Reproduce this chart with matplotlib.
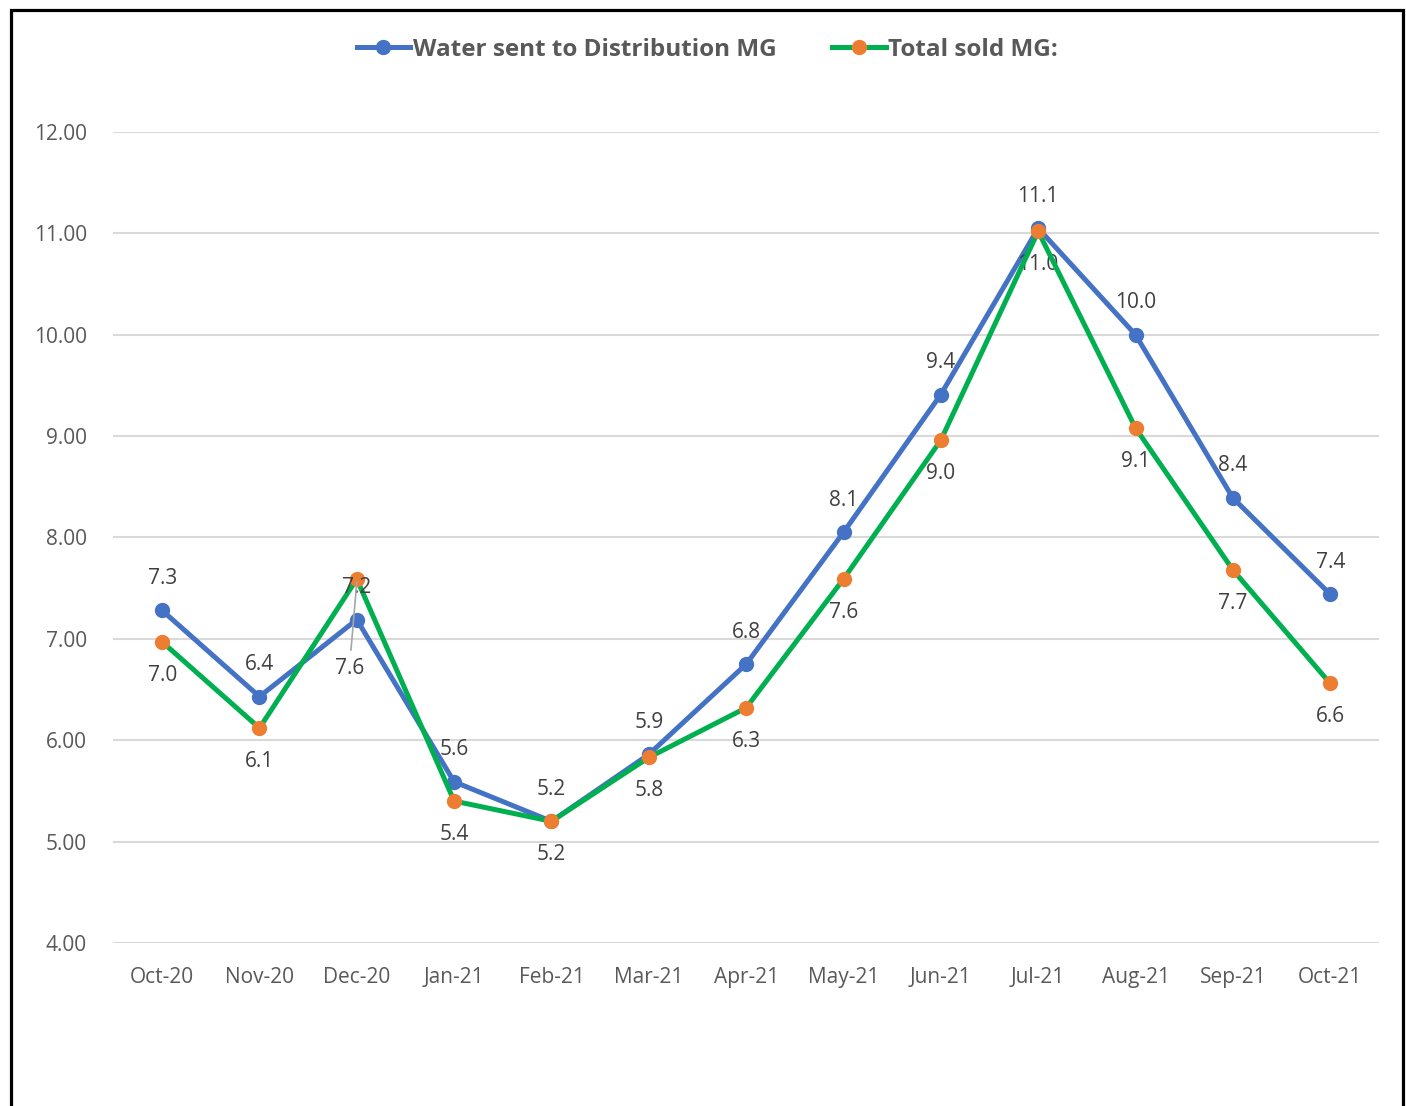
import matplotlib.pyplot as plt
from matplotlib.patches import Rectangle

# Data
months = ['Oct-20', 'Nov-20', 'Dec-20', 'Jan-21', 'Feb-21', 'Mar-21', 'Apr-21',
          'May-21', 'Jun-21', 'Jul-21', 'Aug-21', 'Sep-21', 'Oct-21']
water_sent = [7.28, 6.43, 7.19, 5.59, 5.20, 5.86, 6.75, 8.05, 9.41, 11.05, 10.0, 8.39, 7.44]
total_sold = [6.97, 6.12, 7.59, 5.40, 5.20, 5.83, 6.32, 7.59, 8.96, 11.02, 9.08, 7.68, 6.56]
yticks = [4, 5, 6, 7, 8, 9, 10, 11, 12]

blue = '#4472C4'
green = '#00B050'
orange = '#ED7D31'
grey_text = '#595959'

plt.rcParams['font.family'] = ['Open Sans', 'DejaVu Sans']

fig = plt.figure(figsize=(14.06, 11.06), dpi=100)
ax = fig.add_axes([0.0807, 0.1474, 0.9, 0.7333])

x = list(range(len(months)))
ax.plot(x, water_sent, color=blue, lw=3.6, marker='o', ms=10,
        mfc=blue, mec=blue, label='Water sent to Distribution MG', zorder=3)
ax.plot(x, total_sold, color=green, lw=3.6, marker='o', ms=10,
        mfc=orange, mec=orange, label='Total sold MG:', zorder=4)

# data labels
for i, (a, b) in enumerate(zip(water_sent, total_sold)):
    if i == 2:
        continue
    ax.annotate(f'{a:.1f}', (i, a), xytext=(0, 23), textcoords='offset points',
                ha='center', va='center', fontsize=15, color='#404040')
    ax.annotate(f'{b:.1f}', (i, b), xytext=(0, -24), textcoords='offset points',
                ha='center', va='center', fontsize=15, color='#404040')

# Dec-20 labels moved with leader line
ax.annotate(f'{water_sent[2]:.1f}', (2, total_sold[2]), xytext=(0, -6),
            textcoords='offset points', ha='center', va='center',
            fontsize=15, color='#404040', zorder=5)
ax.annotate(f'{total_sold[2]:.1f}', (2, water_sent[2]), xytext=(-5, -35),
            textcoords='offset points', ha='center', va='center',
            fontsize=15, color='#404040')
ax.plot([2, -0.06 + 2], [total_sold[2] - 0.03, water_sent[2] - 0.3],
        color='#A6A6A6', lw=1.2, zorder=5)

ax.set_xlim(-0.5, len(months) - 0.5)
ax.set_ylim(4, 12)
ax.set_yticks(yticks)
ax.set_yticklabels([f'{v:.2f}' for v in yticks])
ax.set_xticks(x)
ax.set_xticklabels(months)
ax.tick_params(axis='both', length=0, labelsize=15, colors=grey_text)
ax.tick_params(axis='y', pad=19)
ax.tick_params(axis='x', pad=17)
ax.grid(axis='y', color='#D9D9D9', lw=1.5)
ax.set_axisbelow(True)
for s in ax.spines.values():
    s.set_visible(False)

leg = fig.legend(loc='center', bbox_to_anchor=(0.503, 0.955), ncol=2, frameon=False,
                 prop={'size': 17.5, 'weight': 'bold'}, handlelength=2.2,
                 handletextpad=0.1, columnspacing=2.3)
for t in leg.get_texts():
    t.set_color(grey_text)

# outer border
fig.patches.append(Rectangle((10.5 / 1406, -0.05), (1402.5 - 10.5) / 1406,
                             1 - 9.5 / 1106 + 0.05, transform=fig.transFigure,
                             fill=False, ec='black', lw=2.3))

fig.savefig('out.png', dpi=100)
